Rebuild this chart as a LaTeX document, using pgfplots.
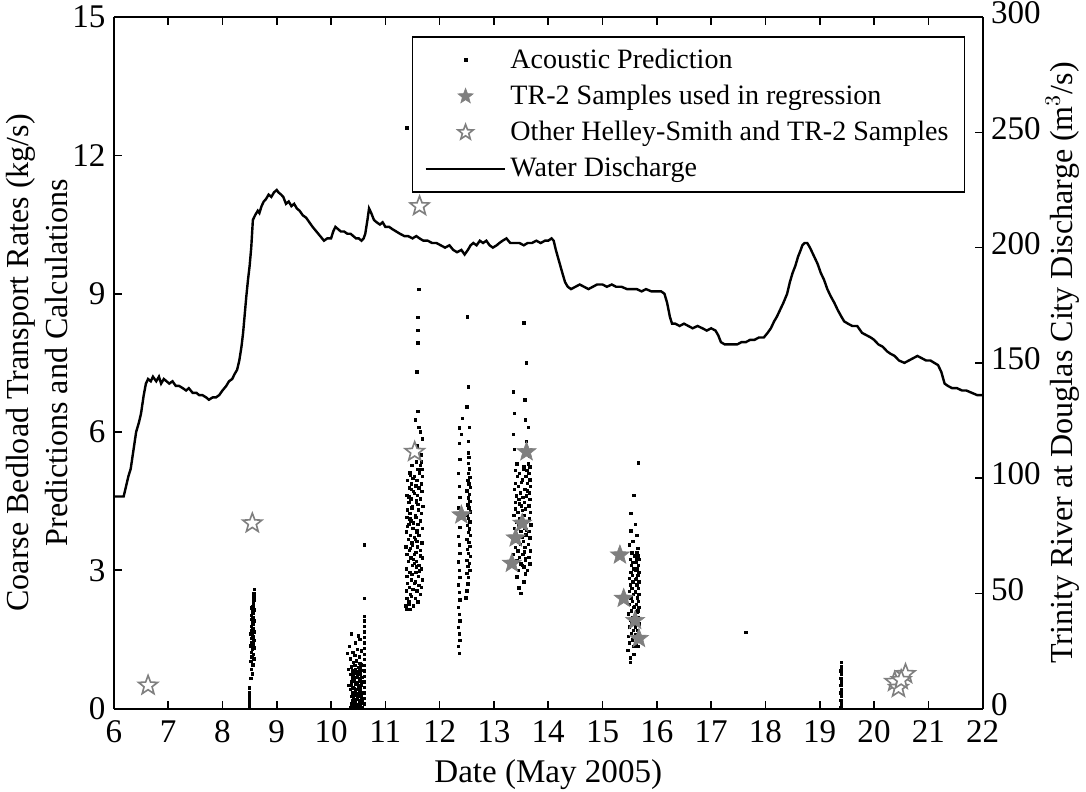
\documentclass[border=0pt]{standalone}
\usepackage{fontspec}
\setmainfont{Liberation Serif}
\usepackage{pgfplots}
\pgfplotsset{compat=1.18}
\definecolor{stargray}{HTML}{7F7F7F}

% five-pointed star mark
\pgfdeclareplotmark{fivestar}{%
  \pgfpathmoveto{\pgfpointpolar{90}{\pgfplotmarksize}}%
  \pgfpathlineto{\pgfpointpolar{126}{0.42\pgfplotmarksize}}%
  \pgfpathlineto{\pgfpointpolar{162}{\pgfplotmarksize}}%
  \pgfpathlineto{\pgfpointpolar{198}{0.42\pgfplotmarksize}}%
  \pgfpathlineto{\pgfpointpolar{234}{\pgfplotmarksize}}%
  \pgfpathlineto{\pgfpointpolar{270}{0.42\pgfplotmarksize}}%
  \pgfpathlineto{\pgfpointpolar{306}{\pgfplotmarksize}}%
  \pgfpathlineto{\pgfpointpolar{342}{0.42\pgfplotmarksize}}%
  \pgfpathlineto{\pgfpointpolar{18}{\pgfplotmarksize}}%
  \pgfpathlineto{\pgfpointpolar{54}{0.42\pgfplotmarksize}}%
  \pgfpathclose
  \pgfusepathqfillstroke
}

\pgfplotsset{
  common/.style={
    scale only axis, width=433.5pt, height=345pt,
    xmin=6, xmax=22,
    tick align=inside, major tick length=4pt,
    axis line style={line width=1pt},
    every tick/.style={black, line width=0.8pt},
    tick label style={font=\fontsize{16.5}{18}\selectfont, inner sep=1pt},
    /pgf/number format/assume math mode=true,
  }
}

\begin{document}
\begin{tikzpicture}
\begin{axis}[
  common,
  ymin=0, ymax=15,
  xtick={6,...,22}, ytick={0,3,...,15},
  axis y line*=left,
  xticklabel style={yshift=-5pt},
  yticklabel style={xshift=-3pt},
  xlabel={Date (May 2005)},
  xlabel style={font=\fontsize{16.5}{18}\selectfont, inner sep=1pt, yshift=-6pt},
  ylabel={Coarse Bedload Transport Rates (kg/s)\\Predictions and Calculations},
  ylabel style={font=\fontsize{16}{19}\selectfont, align=center, yshift=-2pt},
  legend cell align=left,
  legend image code/.code={\draw[mark repeat=2,mark phase=2,#1] plot coordinates {(0cm,0cm) (0.7cm,0cm) (1.4cm,0cm)};},
  legend style={at={(0.98,0.9725)}, anchor=north east, draw=black, line width=0.8pt,
    fill=white, font=\fontsize{14}{17}\selectfont, inner xsep=6pt, inner ysep=4pt,
    row sep=2.8pt},
]
% acoustic prediction
\addplot[only marks, mark=square*, mark size=0.6pt, black] coordinates {
(8.50,0.00)(8.50,0.05)(8.50,0.10)(8.50,0.15)(8.50,0.20)(8.50,0.25)(8.50,0.30)(8.50,0.35)(8.50,0.45)
(8.52,0.65)(8.55,0.75)(8.53,0.85)(8.56,0.95)(8.52,1.02)(8.58,1.08)(8.54,1.12)(8.57,1.18)(8.53,1.22)
(8.55,1.28)(8.59,1.32)(8.52,1.36)(8.56,1.40)(8.54,1.44)(8.58,1.48)(8.53,1.52)(8.57,1.55)(8.55,1.58)
(8.52,1.62)(8.58,1.66)(8.54,1.70)(8.56,1.74)(8.53,1.78)(8.57,1.82)(8.55,1.86)(8.58,1.90)(8.54,1.94)
(8.56,1.98)(8.53,2.02)(8.57,2.06)(8.55,2.10)(8.58,2.14)(8.54,2.18)(8.56,2.22)(8.57,2.28)(8.58,2.35)
(8.58,2.42)(8.58,2.50)(8.59,2.58)
(10.36,0.02)(10.42,0.03)(10.48,0.02)(10.53,0.04)(10.58,0.02)
(10.38,0.10)(10.44,0.12)(10.50,0.09)(10.56,0.11)(10.40,0.18)(10.46,0.20)(10.52,0.17)(10.57,0.19)
(10.37,0.26)(10.43,0.28)(10.49,0.25)(10.55,0.27)(10.39,0.34)(10.45,0.36)(10.51,0.33)(10.58,0.35)
(10.36,0.42)(10.42,0.44)(10.48,0.41)(10.54,0.43)(10.38,0.50)(10.45,0.52)(10.50,0.49)(10.56,0.51)
(10.37,0.58)(10.43,0.60)(10.49,0.57)(10.55,0.59)(10.40,0.66)(10.46,0.68)(10.52,0.65)(10.57,0.67)
(10.36,0.74)(10.42,0.76)(10.48,0.73)(10.54,0.75)(10.39,0.82)(10.45,0.84)(10.51,0.81)(10.57,0.83)
(10.37,0.90)(10.44,0.93)(10.50,0.89)(10.55,0.95)(10.41,1.00)(10.47,1.03)(10.53,0.98)
(10.40,0.06)(10.46,0.07)(10.52,0.14)(10.41,0.22)(10.47,0.31)(10.53,0.38)(10.40,0.46)(10.47,0.55)
(10.53,0.62)(10.40,0.70)(10.46,0.79)(10.53,0.87)
(10.36,1.08)(10.44,1.15)(10.52,1.12)(10.40,1.22)(10.48,1.28)(10.56,1.25)(10.34,1.35)(10.45,1.42)
(10.53,1.50)(10.37,1.62)(10.50,1.58)(10.30,1.20)(10.32,0.85)(10.33,0.50)
(10.61,0.10)(10.61,0.22)(10.61,0.34)(10.61,0.46)(10.61,0.58)(10.61,0.70)(10.61,0.82)(10.61,0.94)
(10.61,1.06)(10.61,1.18)(10.61,1.30)(10.61,1.42)(10.61,1.54)(10.61,1.66)(10.61,1.78)(10.61,1.90)
(10.61,2.00)(10.61,2.39)(10.61,3.55)
(11.40,2.15)(11.46,2.15)(11.38,2.23)(11.52,2.23)(11.43,2.31)(11.60,2.31)(11.40,2.39)(11.55,2.39)
(11.46,2.47)(11.64,2.47)(11.39,2.55)(11.58,2.55)(11.44,2.63)(11.66,2.63)(11.41,2.71)(11.53,2.71)
(11.48,2.79)(11.68,2.79)(11.40,2.87)(11.61,2.87)(11.45,2.95)(11.56,2.95)(11.39,3.03)(11.66,3.03)
(11.50,3.11)(11.62,3.11)(11.42,3.19)(11.57,3.19)(11.47,3.27)(11.68,3.27)(11.40,3.35)(11.53,3.35)
(11.44,3.43)(11.64,3.43)(11.38,3.51)(11.59,3.51)(11.49,3.59)(11.67,3.59)(11.42,3.67)(11.55,3.67)
(11.46,3.75)(11.62,3.75)(11.39,3.83)(11.58,3.83)(11.51,3.91)(11.68,3.91)(11.43,3.99)(11.60,3.99)
(11.47,4.07)(11.65,4.07)(11.40,4.15)(11.56,4.15)(11.45,4.23)(11.66,4.23)(11.41,4.31)(11.61,4.31)
(11.50,4.39)(11.69,4.39)(11.43,4.47)(11.57,4.47)(11.47,4.55)(11.64,4.55)(11.40,4.63)(11.59,4.63)
(11.52,4.71)(11.67,4.71)(11.44,4.79)(11.62,4.79)(11.48,4.87)(11.66,4.87)(11.41,4.95)(11.58,4.95)
(11.53,5.03)(11.68,5.03)(11.45,5.11)(11.63,5.11)(11.60,5.19)(11.67,5.19)(11.49,5.27)(11.65,5.27)
(11.57,5.35)(11.66,5.35)
(11.51,2.59)(11.55,2.75)(11.49,2.91)(11.57,3.07)(11.52,3.23)(11.56,3.39)(11.50,3.55)(11.54,3.71)
(11.58,3.87)(11.52,4.03)(11.55,4.19)(11.49,4.35)(11.57,4.51)(11.53,4.67)(11.56,4.83)(11.51,4.99)
(11.48,2.43)(11.44,2.27)(11.53,3.15)(11.46,3.47)(11.58,3.63)(11.45,4.11)(11.60,4.43)(11.48,4.75)
(11.62,2.67)(11.63,2.99)(11.65,3.31)(11.41,3.95)(11.43,4.59)(11.46,5.07)
(11.66,5.50)(11.58,5.70)(11.68,5.85)(11.64,6.00)(11.62,6.10)(11.55,6.26)(11.60,6.45)(11.58,7.30)
(11.60,7.93)(11.60,8.20)(11.60,8.48)(11.62,9.09)(11.40,12.60)
(12.36,1.20)(12.35,1.35)(12.37,1.48)(12.36,1.62)(12.35,1.76)(12.37,1.90)(12.36,2.04)(12.35,2.20)
(12.37,2.36)(12.36,2.52)(12.35,2.68)(12.37,2.84)(12.36,3.00)(12.35,3.18)(12.37,3.36)(12.36,3.55)
(12.35,3.74)(12.37,3.93)(12.36,4.12)(12.35,4.35)(12.37,4.58)(12.36,4.82)(12.35,5.10)(12.37,5.40)
(12.36,5.75)(12.36,6.09)
(12.53,2.85)(12.50,2.93)(12.56,3.00)(12.52,3.08)(12.55,3.15)(12.50,3.22)(12.57,3.30)(12.53,3.37)
(12.51,3.45)(12.56,3.52)(12.54,3.60)(12.50,3.67)(12.57,3.75)(12.53,3.82)(12.55,3.90)(12.51,3.97)
(12.56,4.05)(12.53,4.12)(12.50,4.20)(12.57,4.27)(12.54,4.35)(12.52,4.42)(12.56,4.50)(12.53,4.57)
(12.55,4.65)(12.50,4.72)(12.57,4.80)(12.54,4.87)(12.52,4.95)(12.56,5.02)(12.53,5.10)(12.55,5.20)
(12.53,5.32)(12.54,5.45)(12.53,5.55)
(12.53,5.80)(12.55,6.10)(12.50,6.54)(12.53,6.98)(12.51,8.50)(12.42,6.30)(12.40,5.95)
(12.52,2.70)(12.50,2.55)(12.48,2.40)
(13.45,3.00)(13.62,3.00)(13.38,3.07)(13.55,3.07)(13.50,3.14)(13.66,3.14)(13.42,3.21)(13.58,3.21)
(13.47,3.28)(13.64,3.28)(13.36,3.35)(13.53,3.35)(13.44,3.42)(13.67,3.42)(13.40,3.49)(13.57,3.49)
(13.49,3.56)(13.63,3.56)(13.37,3.63)(13.54,3.63)(13.45,3.70)(13.66,3.70)(13.41,3.77)(13.59,3.77)
(13.50,3.84)(13.64,3.84)(13.38,3.91)(13.56,3.91)(13.46,3.98)(13.68,3.98)(13.42,4.05)(13.60,4.05)
(13.48,4.12)(13.65,4.12)(13.37,4.19)(13.55,4.19)(13.44,4.26)(13.67,4.26)(13.40,4.33)(13.58,4.33)
(13.51,4.40)(13.64,4.40)(13.39,4.47)(13.56,4.47)(13.46,4.54)(13.66,4.54)(13.41,4.61)(13.60,4.61)
(13.49,4.68)(13.65,4.68)(13.38,4.75)(13.57,4.75)(13.45,4.82)(13.67,4.82)(13.40,4.89)(13.62,4.89)
(13.52,4.96)(13.66,4.96)(13.43,5.03)(13.59,5.03)(13.47,5.10)(13.64,5.10)(13.39,5.17)(13.61,5.17)
(13.55,5.24)(13.66,5.24)(13.42,5.31)(13.63,5.31)
(13.52,3.10)(13.56,3.40)(13.52,3.72)(13.54,4.02)(13.52,4.30)(13.53,4.58)(13.51,4.90)(13.55,5.20)
(13.58,3.25)(13.60,3.88)(13.47,4.44)(13.62,4.72)
(13.50,2.50)(13.46,2.62)(13.55,2.75)(13.42,2.86)(13.58,2.92)(13.65,5.48)(13.38,5.62)(13.60,5.80)
(13.36,5.95)(13.63,6.10)(13.58,6.26)(13.38,6.40)(13.36,6.87)(13.57,6.70)(13.60,7.50)(13.55,8.37)
(15.58,1.35)(15.65,1.35)(15.50,1.42)(15.62,1.42)(15.55,1.49)(15.67,1.49)(15.48,1.56)(15.60,1.56)
(15.53,1.63)(15.66,1.63)(15.57,1.70)(15.64,1.70)(15.49,1.77)(15.61,1.77)(15.54,1.84)(15.67,1.84)
(15.51,1.91)(15.63,1.91)(15.56,1.98)(15.66,1.98)(15.48,2.05)(15.60,2.05)(15.53,2.12)(15.65,2.12)
(15.58,2.19)(15.67,2.19)(15.50,2.26)(15.62,2.26)(15.55,2.33)(15.66,2.33)(15.52,2.40)(15.64,2.40)
(15.57,2.47)(15.67,2.47)(15.49,2.54)(15.61,2.54)(15.54,2.61)(15.66,2.61)(15.51,2.68)(15.63,2.68)
(15.56,2.75)(15.67,2.75)(15.50,2.82)(15.62,2.82)(15.55,2.89)(15.65,2.89)(15.52,2.96)(15.67,2.96)
(15.58,3.03)(15.64,3.03)(15.53,3.10)(15.66,3.10)(15.56,3.17)(15.62,3.17)(15.51,3.24)(15.67,3.24)
(15.59,3.31)(15.65,3.31)(15.54,3.38)(15.63,3.38)
(15.60,1.60)(15.62,1.90)(15.59,2.22)(15.61,2.52)(15.60,2.80)(15.60,3.00)(15.62,3.25)(15.63,2.10)
(15.66,5.33)(15.58,4.63)(15.52,4.24)(15.60,4.00)(15.52,3.85)(15.63,3.75)(15.56,3.62)(15.50,3.55)
(15.65,3.48)(15.51,1.10)(15.51,1.00)(15.58,1.18)(15.47,1.26)
(17.64,1.65)
(19.39,0.02)(19.40,0.10)(19.39,0.18)(19.40,0.26)(19.39,0.34)(19.40,0.42)(19.39,0.50)(19.40,0.58)
(19.39,0.66)(19.40,0.74)(19.39,0.82)(19.40,0.90)(19.40,1.00)
};
\addlegendentry{Acoustic Prediction}
% TR-2 samples used in regression
\addplot[only marks, mark=fivestar, mark size=5pt, stargray,
  mark options={fill=stargray, draw=stargray, line width=0.3pt},
  legend image post style={mark size=4pt}] coordinates {
(12.40,4.20)(13.60,5.57)(13.52,4.02)(13.40,3.70)(13.33,3.15)
(15.32,3.33)(15.39,2.39)(15.60,1.91)(15.67,1.52)
};
\addlegendentry{TR-2 Samples used in regression}
% other Helley-Smith and TR-2 samples
\addplot[only marks, mark=fivestar, mark size=5pt, stargray,
  mark options={fill=white, draw=stargray, line width=0.8pt},
  legend image post style={mark size=4pt}] coordinates {
(6.63,0.50)(8.55,4.02)(11.63,10.90)(11.54,5.57)
(20.38,0.58)(20.45,0.45)(20.58,0.75)(20.50,0.62)
};
\addlegendentry{Other Helley-Smith and TR-2 Samples}
\addlegendimage{black, line width=1pt}
\addlegendentry{Water Discharge}
\end{axis}

\begin{axis}[
  common,
  ymin=0, ymax=300, ytick={0,50,...,300},
  axis y line*=right, axis x line=none,
  yticklabel style={xshift=3pt, yshift=2pt},
  ylabel={Trinity River at Douglas City Discharge (m$^3$/s)},
  ylabel style={font=\fontsize{16}{19}\selectfont, yshift=2pt},
]
\addplot[black, line width=1.2pt] coordinates {
(6.00,92)(6.10,92)(6.18,92)(6.22,96)(6.27,101)(6.31,104)(6.36,112)(6.41,120)(6.46,124)(6.50,128)
(6.55,136)(6.59,141)(6.63,143)(6.68,142)(6.72,144)(6.78,142)(6.83,144)(6.87,141)(6.92,143)(6.97,142)
(7.02,141)(7.08,142)(7.14,140)(7.20,140)(7.27,139)(7.33,138)(7.38,139)(7.45,137)(7.52,137)(7.57,136)
(7.63,136)(7.70,135)(7.75,134)(7.82,135)(7.88,135)(7.94,136)(8.00,138)(8.07,140)(8.12,142)(8.18,143)
(8.22,145)(8.27,147)(8.31,151)(8.35,157)(8.38,163)(8.41,171)(8.44,179)(8.47,186)(8.50,192)(8.53,200)
(8.56,212)(8.60,214)(8.65,216)(8.68,215)(8.72,218)(8.76,220)(8.80,221)(8.85,223)(8.90,222)(8.95,224)
(9.00,225)(9.03,224)(9.08,223)(9.12,222)(9.17,219)(9.22,220)(9.27,218)(9.32,219)(9.37,217)(9.42,216)
(9.48,214)(9.54,213)(9.60,211)(9.66,209)(9.73,207)(9.80,205)(9.87,203)(9.93,204)(10.00,204)(10.04,207)
(10.08,209)(10.13,208)(10.18,207)(10.24,207)(10.30,206)(10.36,206)(10.41,205)(10.46,204)(10.51,204)
(10.56,203)(10.60,204)(10.63,206)(10.67,212)(10.70,217)(10.74,215)(10.79,212)(10.84,211)(10.90,210)
(10.95,211)(11.00,209)(11.07,209)(11.13,208)(11.20,207)(11.27,206)(11.35,205)(11.42,205)(11.50,204)
(11.57,205)(11.63,204)(11.70,203)(11.78,203)(11.86,202)(11.94,202)(12.02,201)(12.10,200)(12.18,201)
(12.25,199)(12.32,198)(12.40,199)(12.46,197)(12.52,199)(12.57,201)(12.62,202)(12.68,201)(12.74,203)
(12.80,202)(12.86,203)(12.92,201)(12.98,200)(13.05,201)(13.10,202)(13.16,203)(13.23,204)(13.30,202)
(13.38,202)(13.47,202)(13.55,201)(13.62,202)(13.70,202)(13.78,203)(13.86,202)(13.94,203)(14.00,203)
(14.06,204)(14.10,203)(14.14,199)(14.20,194)(14.26,189)(14.31,185)(14.36,183)(14.42,182)(14.50,183)
(14.58,184)(14.66,183)(14.74,182)(14.82,183)(14.90,184)(15.00,184)(15.08,183)(15.17,184)(15.25,183)
(15.35,183)(15.45,182)(15.55,182)(15.63,182)(15.72,181)(15.80,182)(15.90,181)(16.00,181)(16.08,181)
(16.14,180)(16.19,176)(16.24,170)(16.28,167)(16.34,167)(16.42,166)(16.50,167)(16.58,166)(16.66,165)
(16.75,166)(16.84,165)(16.92,164)(17.00,165)(17.08,164)(17.13,162)(17.18,159)(17.25,158)(17.32,158)
(17.40,158)(17.48,158)(17.56,159)(17.64,159)(17.72,160)(17.80,160)(17.88,161)(17.97,161)(18.04,163)
(18.10,165)(18.16,168)(18.21,170)(18.27,173)(18.33,176)(18.40,180)(18.45,185)(18.50,189)(18.55,192)
(18.60,196)(18.65,199)(18.68,201)(18.72,202)(18.77,202)(18.82,200)(18.86,198)(18.90,196)(18.96,193)
(19.02,189)(19.08,186)(19.14,182)(19.20,179)(19.27,176)(19.33,173)(19.40,170)(19.45,168)(19.52,167)
(19.60,166)(19.69,166)(19.78,163)(19.86,162)(19.94,161)(20.00,160)(20.08,158)(20.16,157)(20.24,155)
(20.30,154)(20.38,153)(20.46,151)(20.56,150)(20.64,151)(20.72,152)(20.80,153)(20.88,152)(20.96,151)
(21.04,151)(21.11,150)(21.18,149)(21.24,146)(21.30,141)(21.36,140)(21.44,139)(21.53,139)(21.62,138)
(21.70,138)(21.80,137)(21.90,136)(22.00,136)
};
\end{axis}
\end{tikzpicture}
\end{document}
